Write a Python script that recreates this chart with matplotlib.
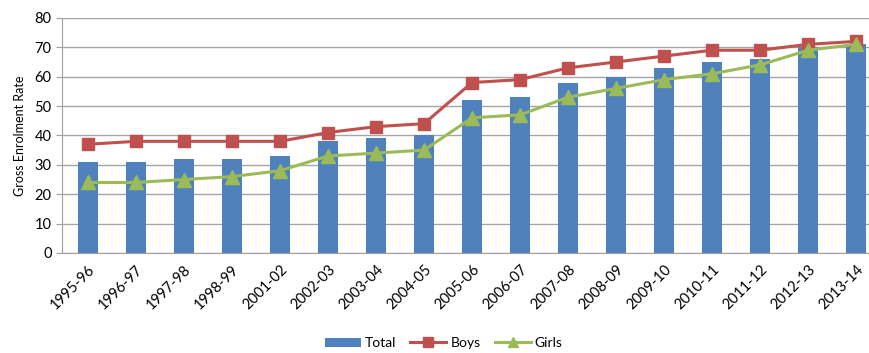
import numpy as np
import matplotlib.pyplot as plt

# Data
years = ['1995-96', '1996-97', '1997-98', '1998-99', '2001-02', '2002-03',
         '2003-04', '2004-05', '2005-06', '2006-07', '2007-08', '2008-09',
         '2009-10', '2010-11', '2011-12', '2012-13', '2013-14']
total = [31, 31, 32, 32, 33, 38, 39, 40, 52, 53, 58, 60, 63, 65, 66, 70, 71]
boys = [37, 38, 38, 38, 38, 41, 43, 44, 58, 59, 63, 65, 67, 69, 69, 71, 72]
girls = [24, 24, 25, 26, 28, 33, 34, 35, 46, 47, 53, 56, 59, 61, 64, 69, 71]

plt.rcParams['font.family'] = ['Lato', 'DejaVu Sans']

fig = plt.figure(figsize=(8.7, 3.53), dpi=100)
ax = fig.add_axes([0.0713, 0.2833, 0.9287, 0.666])

x = np.arange(len(years))
b = ax.bar(x, total, width=0.4, color='#4F81BD', label='Total', zorder=2)
l1, = ax.plot(x, boys, color='#C0504D', lw=2.2, marker='s', markersize=8.5,
              label='Boys', zorder=3)
l2, = ax.plot(x, girls, color='#9BBB59', lw=2.2, marker='^', markersize=9.5,
              label='Girls', zorder=4)

ax.set_ylim(0, 80)
ax.set_yticks(range(0, 81, 10))
ax.set_xlim(-0.54, 16.29)
ax.set_xticks(x)
ax.set_xticklabels(years, rotation=45, ha='right', rotation_mode='anchor',
                   fontsize=10.5)
ax.tick_params(axis='x', length=0, pad=7)
ax.tick_params(axis='y', length=4, color='#a0a0a0', labelsize=10.5)
ax.set_ylabel('Gross Enrolment Rate', fontsize=9, labelpad=6)

ax.grid(axis='y', color='#a6a6a6', lw=1, zorder=0)
for s in ['top', 'right']:
    ax.spines[s].set_visible(False)
ax.spines['left'].set_color('#a0a0a0')
ax.spines['bottom'].set_color('#a0a0a0')

fig.legend(handles=[b, l1, l2], loc='lower center',
           bbox_to_anchor=(0.51, -0.025), ncol=3, frameon=False,
           fontsize=10, handlelength=2.6, columnspacing=1.0,
           handletextpad=0.3, markerscale=0.8)

fig.savefig('out.png', dpi=100)
